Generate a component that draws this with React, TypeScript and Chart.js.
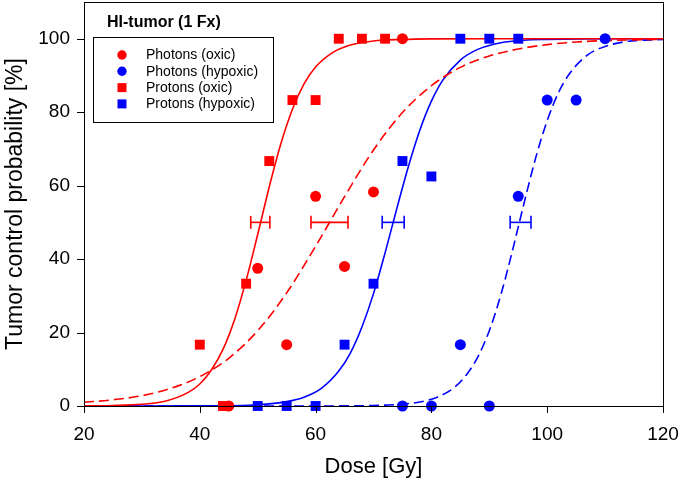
import React, { useEffect, useRef } from 'react';
import { Chart, registerables } from 'chart.js';

Chart.register(...registerables);

const FONT = '"Liberation Sans", Arial, Helvetica, sans-serif';
const RED = '#ff0000';
const BLUE = '#0000ff';

// Measured data points (dose in Gy, tumor control probability in %)
const photonsOxicDose = [45, 50, 55, 60, 65, 70, 75];
const photonsOxicTCP = [0, 37.5, 16.7, 57.1, 38.0, 58.3, 100];
const photonsHypoxicDose = [75, 80, 85, 90, 95, 100, 105, 110];
const photonsHypoxicTCP = [0, 0, 16.7, 0, 57.1, 83.3, 83.3, 100];
const protonsOxicDose = [40, 44, 48, 52, 56, 60, 64, 68, 72];
const protonsOxicTCP = [16.7, 0, 33.3, 66.7, 83.3, 83.3, 100, 100, 100];
const protonsHypoxicDose = [50, 55, 60, 65, 70, 75, 80, 85, 90, 95];
const protonsHypoxicTCP = [0, 0, 0, 16.7, 33.3, 66.7, 62.5, 100, 100, 100];

// Fitted curves
const protonsOxicFitDose = [20, 25, 30, 34, 38, 40, 42, 44, 46, 48, 50, 52, 54, 56, 58, 60, 63, 66, 70, 75, 80, 90, 100, 110, 120];
const protonsOxicFitTCP = [0.03, 0.13, 0.46, 1.3, 3.7, 6.0, 9.8, 15.4, 23.5, 34.2, 46.7, 59.7, 71.4, 80.8, 87.7, 92.3, 96.3, 98.3, 99.4, 99.8, 99.95, 100, 100, 100, 100];
const photonsOxicFitDose = [20, 25, 30, 35, 40, 45, 50, 55, 60, 65, 70, 75, 80, 85, 90, 95, 100, 105, 110, 115, 120];
const photonsOxicFitTCP = [1.0, 1.7, 2.8, 4.8, 8.0, 13.0, 20.5, 30.8, 43.5, 57.0, 69.7, 79.9, 87.2, 92.2, 95.3, 97.2, 98.4, 99.1, 99.5, 99.7, 99.8];
const protonsHypoxicFitDose = [20, 30, 40, 50, 55, 58, 61, 64, 66, 68, 70, 72, 74, 76, 78, 80, 82, 85, 88, 92, 96, 100, 110, 120];
const protonsHypoxicFitTCP = [0, 0, 0.03, 0.36, 1.2, 2.4, 4.8, 9.5, 14.4, 21.5, 30.6, 41.7, 53.6, 65.1, 75.1, 83.0, 88.8, 94.2, 97.1, 98.9, 99.6, 99.8, 100, 100];
const photonsHypoxicFitDose = [20, 40, 60, 70, 75, 78, 81, 84, 86, 88, 90, 92, 94, 96, 98, 100, 102, 104, 107, 110, 114, 120];
const photonsHypoxicFitTCP = [0, 0, 0.01, 0.14, 0.52, 1.1, 2.4, 5.1, 8.4, 13.3, 20.5, 30.3, 42.3, 55.2, 67.5, 77.7, 85.5, 90.8, 95.6, 97.9, 99.3, 99.8];

// TCD50 confidence intervals (drawn at 50 %)
const errorBarLevel = 50;
const protonsOxicD50Range = [48.8, 52.1];
const photonsOxicD50Range = [59.2, 65.6];
const protonsHypoxicD50Range = [71.5, 75.3];
const photonsHypoxicD50Range = [93.6, 97.2];

const xTicks = [20, 40, 60, 80, 100, 120];
const yTicks = [0, 20, 40, 60, 80, 100];

const legendTitle = 'HI-tumor (1 Fx)';
const legendItems = [
  { label: 'Photons (oxic)', color: RED, shape: 'circle' },
  { label: 'Photons (hypoxic)', color: BLUE, shape: 'circle' },
  { label: 'Protons (oxic)', color: RED, shape: 'rect' },
  { label: 'Protons (hypoxic)', color: BLUE, shape: 'rect' },
];

const pts = (xs: number[], ys: number[]) => xs.map((x, i) => ({ x, y: ys[i] }));

const markerSet = (label: string, xs: number[], ys: number[], color: string, shape: string) => ({
  label,
  data: pts(xs, ys),
  showLine: false,
  pointStyle: shape,
  pointRadius: shape === 'rect' ? 7 : 5.5,
  pointBackgroundColor: color,
  pointBorderColor: color,
  pointBorderWidth: 0,
  clip: false,
});

const curveSet = (label: string, xs: number[], ys: number[], color: string, dashed: boolean) => ({
  label,
  data: pts(xs, ys),
  showLine: true,
  borderColor: color,
  borderWidth: 1.6,
  borderDash: dashed ? [10, 5] : [],
  pointRadius: 0,
  cubicInterpolationMode: 'monotone',
  fill: false,
});

const errorSet = (label: string, range: number[], color: string) => ({
  label,
  data: range.map((x) => ({ x, y: errorBarLevel })),
  showLine: true,
  borderColor: color,
  borderWidth: 1.6,
  pointStyle: 'line',
  rotation: 90,
  pointRadius: 6.5,
  pointBorderColor: color,
  pointBorderWidth: 1.6,
});

const labelFor = (list: number[]) => (v: any) => {
  const r = Math.round(v);
  return list.includes(r) && Math.abs(v - r) < 1e-6 ? String(r) : null;
};

const decorPlugin = {
  id: 'decor',
  afterDraw(chart: any) {
    const { ctx, chartArea, scales } = chart;
    const { left, right, top, bottom } = chartArea;
    const x = scales.x;
    const y = scales.y;
    ctx.save();
    ctx.strokeStyle = '#000';
    ctx.lineWidth = 1;
    ctx.beginPath();
    x.ticks.forEach((t: any) => {
      const v = Math.round(t.value);
      if (Math.abs(t.value - v) > 1e-6 || v % 4 !== 0) return;
      const px = Math.round(x.getPixelForValue(v)) + 0.5;
      const len = xTicks.includes(v) ? 7 : 4;
      ctx.moveTo(px, bottom);
      ctx.lineTo(px, bottom + len);
    });
    y.ticks.forEach((t: any) => {
      const v = Math.round(t.value);
      if (Math.abs(t.value - v) > 1e-6 || v % 4 !== 0) return;
      const py = Math.round(y.getPixelForValue(v)) + 0.5;
      const len = yTicks.includes(v) ? 7 : 4;
      ctx.moveTo(left, py);
      ctx.lineTo(left - len, py);
    });
    ctx.stroke();
    ctx.strokeRect(Math.round(left) + 0.5, Math.round(top) + 0.5, Math.round(right - left), Math.round(bottom - top));

    // legend
    const bx = 93.5, by = 37.5, bw = 180, bh = 85;
    ctx.fillStyle = '#fff';
    ctx.fillRect(bx, by, bw, bh);
    ctx.strokeRect(bx, by, bw, bh);
    ctx.fillStyle = '#000';
    ctx.font = `bold 16px ${FONT}`;
    ctx.textAlign = 'left';
    ctx.textBaseline = 'middle';
    ctx.fillText(legendTitle, 107, 23);
    ctx.font = `14px ${FONT}`;
    legendItems.forEach((it, i) => {
      const cy = 55 + i * 16.3;
      ctx.fillStyle = it.color;
      if (it.shape === 'circle') {
        ctx.beginPath();
        ctx.arc(122, cy, 4.7, 0, Math.PI * 2);
        ctx.fill();
      } else {
        ctx.fillRect(122 - 4.5, cy - 4.5, 9, 9);
      }
      ctx.fillStyle = '#000';
      ctx.fillText(it.label, 146, cy + 0.5);
    });
    ctx.restore();
  },
};

export default function App() {
  const ref = useRef<HTMLCanvasElement>(null);
  useEffect(() => {
    document.body.style.margin = '0';
    const chart = new Chart(ref.current as HTMLCanvasElement, {
      type: 'scatter',
      data: {
        datasets: [
          markerSet('Photons (oxic)', photonsOxicDose, photonsOxicTCP, RED, 'circle'),
          markerSet('Photons (hypoxic)', photonsHypoxicDose, photonsHypoxicTCP, BLUE, 'circle'),
          markerSet('Protons (oxic)', protonsOxicDose, protonsOxicTCP, RED, 'rect'),
          markerSet('Protons (hypoxic)', protonsHypoxicDose, protonsHypoxicTCP, BLUE, 'rect'),
          curveSet('Protons (oxic) fit', protonsOxicFitDose, protonsOxicFitTCP, RED, false),
          curveSet('Photons (oxic) fit', photonsOxicFitDose, photonsOxicFitTCP, RED, true),
          curveSet('Protons (hypoxic) fit', protonsHypoxicFitDose, protonsHypoxicFitTCP, BLUE, false),
          curveSet('Photons (hypoxic) fit', photonsHypoxicFitDose, photonsHypoxicFitTCP, BLUE, true),
          errorSet('Protons (oxic) TCD50', protonsOxicD50Range, RED),
          errorSet('Photons (oxic) TCD50', photonsOxicD50Range, RED),
          errorSet('Protons (hypoxic) TCD50', protonsHypoxicD50Range, BLUE),
          errorSet('Photons (hypoxic) TCD50', photonsHypoxicD50Range, BLUE),
        ] as any,
      },
      options: {
        responsive: false,
        animation: false,
        devicePixelRatio: 1,
        layout: { autoPadding: false, padding: { left: 0, top: 2, right: 16, bottom: 0 } },
        plugins: { legend: { display: false }, tooltip: { enabled: false } },
        scales: {
          x: {
            type: 'linear',
            min: 20,
            max: 120,
            afterFit: (s: any) => {
              s.height = 77;
              s.paddingLeft = 0;
              s.paddingRight = 0;
            },
            ticks: {
              stepSize: 4,
              autoSkip: false,
              maxRotation: 0,
              padding: 17,
              color: '#000',
              font: { family: FONT, size: 19 },
              callback: labelFor(xTicks),
            },
            grid: { display: true, drawOnChartArea: false, drawTicks: false },
            border: { display: true, color: '#000', width: 1 },
            title: { display: true, text: 'Dose [Gy]', color: '#000', font: { family: FONT, size: 22 }, padding: { top: 0, bottom: 3 } },
          },
          y: {
            type: 'linear',
            min: 0,
            max: 110,
            afterFit: (s: any) => {
              s.width = 84;
              s.paddingTop = 0;
              s.paddingBottom = 0;
            },
            ticks: {
              stepSize: 4,
              autoSkip: false,
              padding: 14,
              color: '#000',
              font: { family: FONT, size: 19 },
              callback: labelFor(yTicks),
            },
            grid: { display: true, drawOnChartArea: false, drawTicks: false },
            border: { display: true, color: '#000', width: 1 },
            title: { display: true, text: 'Tumor control probability [%]', color: '#000', font: { family: FONT, size: 23 }, padding: { top: 2, bottom: 0 } },
          },
        },
      } as any,
      plugins: [decorPlugin],
    });
    return () => chart.destroy();
  }, []);
  return (
    <div style={{ width: 679, height: 483 }}>
      <canvas ref={ref} width={679} height={483} style={{ display: 'block' }} />
    </div>
  );
}
